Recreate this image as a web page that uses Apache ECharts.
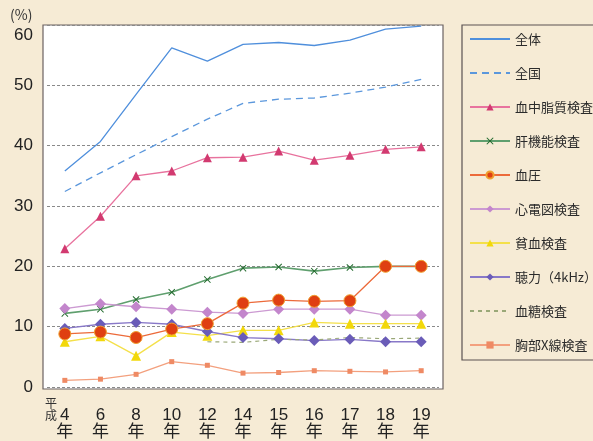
<!DOCTYPE html>
<html>
<head>
<meta charset="utf-8">
<script src="https://cdn.jsdelivr.net/npm/echarts@6/dist/echarts.min.js"></script>
<style>
  html, body { margin: 0; padding: 0; background: #f6ebd5; }
  #main { width: 593px; height: 441px; }
</style>
</head>
<body>
<div id="main"></div>
<script>
// 年度（平成）
var years = ['4', '6', '8', '10', '12', '14', '15', '16', '17', '18', '19'];
var yTicks = [0, 10, 20, 30, 40, 50, 60];

var zentai    = [35.8, 40.7, 48.5, 56.2, 54.0, 56.8, 57.1, 56.6, 57.5, 59.3, 59.8];
var zenkoku   = [32.4, 35.5, 38.5, 41.5, 44.4, 47.0, 47.7, 47.9, 48.7, 49.7, 51.0];
var kesshi    = [22.9, 28.3, 35.0, 35.8, 38.0, 38.1, 39.1, 37.6, 38.4, 39.4, 39.8];
var kankino   = [12.2, 12.9, 14.5, 15.7, 17.8, 19.7, 19.9, 19.2, 19.8, 20.0, 20.0];
var ketsuatsu = [8.8, 9.1, 8.2, 9.6, 10.5, 13.9, 14.4, 14.2, 14.3, 20.0, 20.0];
var shindenzu = [13.0, 13.8, 13.3, 12.9, 12.4, 12.2, 12.9, 12.9, 12.9, 11.9, 11.9];
var hinketsu  = [7.5, 8.4, 5.2, 9.1, 8.5, 9.4, 9.4, 10.7, 10.5, 10.5, 10.5];
var choryoku  = [9.7, 10.4, 10.7, 10.4, 9.2, 8.2, 8.0, 7.7, 7.9, 7.5, 7.5];
var kettou    = [null, null, null, null, 7.5, 7.4, 7.9, 7.8, 8.2, 8.0, 8.1];
var kyobu     = [1.1, 1.3, 2.1, 4.2, 3.6, 2.3, 2.4, 2.7, 2.6, 2.5, 2.7];

var names = ['全体', '全国', '血中脂質検査', '肝機能検査', '血圧', '心電図検査',
             '貧血検査', '聴力（4kHz）', '血糖検査', '胸部X線検査'];
var noMarker = ['全体', '全国', '血糖検査'];

var crossPath = 'path://M0,1 L1,0 L5,4 L9,0 L10,1 L6,5 L10,9 L9,10 L5,6 L1,10 L0,9 L4,5 Z';

function mkLine(name, data, color, opt) {
    opt = opt || {};
    return {
        name: name,
        type: 'line',
        data: data,
        connectNulls: false,
        symbol: opt.symbol || 'none',
        symbolSize: opt.size || 8,
        z: opt.z || 2,
        lineStyle: { color: color, width: opt.width || 1.3, type: opt.type || 'solid' },
        itemStyle: {
            color: opt.mark || color,
            borderColor: opt.border || opt.mark || color,
            borderWidth: opt.borderWidth || 0
        },
        emphasis: { disabled: true }
    };
}

var chart = echarts.init(document.getElementById('main'));
var option = {
    backgroundColor: '#f6ebd5',
    animation: false,
    textStyle: { fontFamily: '"Noto Sans CJK JP", "Noto Sans", sans-serif' },
    graphic: [
        { type: 'rect', z: -10, shape: { x: 43, y: 25, width: 400, height: 364 },
          style: { fill: '#ffffff', stroke: '#6b6262', lineWidth: 1.2 } },
        { type: 'rect', z: -10, shape: { x: 462, y: 25, width: 170, height: 335 },
          style: { fill: '#f6ebd5', stroke: '#5a5252', lineWidth: 1.2 } },
        { type: 'text', left: 10, top: 8,
          style: { text: '(%)', fontSize: 14, fill: '#333', fontFamily: 'Noto Sans CJK JP' } },
        { type: 'text', left: 45, top: 397,
          style: { text: '平\n成', fontSize: 12, lineHeight: 12, fill: '#333', fontFamily: 'Noto Sans CJK JP' } }
    ],
    grid: { left: 47, right: 154, top: 25, bottom: 52 },
    legend: {
        orient: 'vertical',
        left: 469,
        top: 32,
        padding: 0,
        itemWidth: 40,
        itemHeight: 9,
        itemGap: 20,
        textStyle: { fontSize: 13, lineHeight: 14, color: '#2b2b2b', fontFamily: 'Noto Sans CJK JP' },
        data: names.map(function (n) {
            return noMarker.indexOf(n) >= 0 ? { name: n, itemStyle: { opacity: 0 } } : { name: n };
        })
    },
    xAxis: {
        type: 'category',
        data: years,
        boundaryGap: true,
        axisLine: { show: false },
        axisTick: { show: false },
        axisLabel: {
            margin: 20,
            fontSize: 17,
            lineHeight: 17,
            color: '#222',
            fontFamily: 'Liberation Sans, Noto Sans CJK JP',
            formatter: function (v) { return v + '\n年'; }
        }
    },
    yAxis: {
        type: 'value',
        min: yTicks[0],
        max: yTicks[yTicks.length - 1],
        interval: 10,
        axisLine: { show: false },
        axisTick: { show: false },
        axisLabel: {
            margin: 14, fontSize: 17, color: '#222', fontFamily: 'Liberation Sans',
            formatter: function (v) { return v === 60 ? '{t|60}' : String(v); },
            rich: { t: { fontSize: 17, color: '#222', fontFamily: 'Liberation Sans', padding: [20, 0, 0, 0] } }
        },
        splitLine: {
            show: true,
            lineStyle: { color: '#8a8a8a', type: [3, 2], width: 1 }
        }
    },
    series: [
        mkLine('全体', zentai, '#4f8fdc', { width: 1.3 }),
        mkLine('全国', zenkoku, '#5b97dc', { type: [7, 5], width: 1.3 }),
        mkLine('血中脂質検査', kesshi, '#e8739e', { symbol: 'triangle', size: 9, mark: '#d23a70' }),
        mkLine('肝機能検査', kankino, '#5f9f6e', { symbol: crossPath, size: 7, mark: '#236b2e', width: 1.6 }),
        mkLine('血圧', ketsuatsu, '#ec6a3a', { symbol: 'circle', size: 12, mark: '#df3f12', border: '#f0a030', borderWidth: 1, z: 3 }),
        mkLine('心電図検査', shindenzu, '#cc9ad2', { symbol: 'diamond', size: 11, mark: '#c386cc' }),
        mkLine('貧血検査', hinketsu, '#f4e04a', { symbol: 'triangle', size: 10, mark: '#f2d80a' }),
        mkLine('聴力（4kHz）', choryoku, '#8878c8', { symbol: 'diamond', size: 11, mark: '#6a5cb8' }),
        mkLine('血糖検査', kettou, '#9aa878', { type: [4, 4], width: 1.2 }),
        mkLine('胸部X線検査', kyobu, '#f3a07e', { symbol: 'rect', size: 5, mark: '#ef8a64' })
    ]
};
chart.setOption(option);
</script>
</body>
</html>
